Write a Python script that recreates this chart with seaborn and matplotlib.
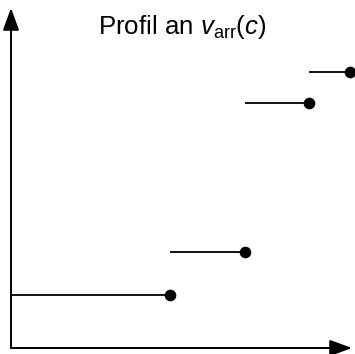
import matplotlib
matplotlib.use("Agg")
import matplotlib.pyplot as plt
import seaborn as sns
import pandas as pd

sns.set_style("white")
plt.rcParams["font.family"] = ["Liberation Sans", "DejaVu Sans"]
plt.rcParams["mathtext.fontset"] = "custom"
plt.rcParams["mathtext.rm"] = "Liberation Sans"
plt.rcParams["mathtext.it"] = "Liberation Sans:italic"

# Step profile: breakpoints along c and the level on each interval
breaks = [0.0, 4.7, 6.9, 8.8, 10.0]
levels = [1.57, 2.84, 7.25, 8.17]

starts = breaks[:-1]
ends = breaks[1:]
df = pd.DataFrame({"start": starts, "end": ends, "level": levels})

fig = plt.figure(figsize=(3.55, 3.54), dpi=100)
ax = fig.add_axes([0, 0, 1, 1])
ax.set_xlim(-11 / 33.9, (355 - 11) / 33.9)
ax.set_ylim(-6 / 33.8, (354 - 6) / 33.8)
ax.axis("off")

# horizontal pieces of the step function
ax.hlines(df["level"], df["start"], df["end"], color="black", lw=1.3)
# closed endpoint on the right of each piece
sns.scatterplot(data=df, x="end", y="level", ax=ax, color="black",
                s=70, edgecolor="black", linewidth=0, zorder=3, legend=False)

# coordinate axes with arrow heads
arrow = dict(arrowstyle="-|>,head_length=1.37,head_width=0.5",
             mutation_scale=10, lw=1.4, color="black", shrinkA=0, shrinkB=0)
ax.annotate("", xy=(0, 10.06), xytext=(0, 0), arrowprops=arrow)
ax.annotate("", xy=(10.06, 0), xytext=(0, 0), arrowprops=arrow)

fig.text(182 / 355, 1 - 34 / 354, r"Profil an $v_{\mathrm{arr}}(c)$",
         ha="center", va="baseline", fontsize=18.6, color="black")

fig.savefig("out.png", dpi=100)
